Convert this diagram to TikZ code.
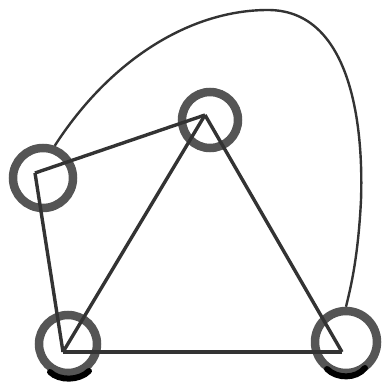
\documentclass[tikz,border=0pt]{standalone}
\usepackage{tikz}
\definecolor{gRing}{HTML}{555555}
\definecolor{gInk}{HTML}{333333}
\usetikzlibrary{positioning}

\begin{document}
\begin{tikzpicture}[
  x=1pt,y=-1pt,
  ring/.style={circle,draw=gRing,line width=8.5pt,inner sep=0pt,minimum size=#1},
  ring/.default=58pt,
  edge/.style={draw=gInk,line width=3.4pt,line join=miter},
  bigarc/.style={draw=gInk,line width=2.4pt},
  shadowarc/.style={draw=black,line width=6pt,line cap=round}
]
\useasboundingbox (0,0) rectangle (383,387);
\node[ring=60pt] (nl) at (43,178) {};
\node[ring=56pt] (nt) at (210,120) {};
\node[ring=58pt] (nb) at (68,344) {};
\node[ring=62pt] (nr) at (346,342) {};
\coordinate (vl) at (35,173);
\coordinate (vt) at (205,115);
\coordinate (vb) at (63,352);
\coordinate (vr) at (342,352);
\draw[edge] (vl) -- (vt);
\draw[edge] (vl) -- (vb);
\draw[edge] (vt) -- (vb);
\draw[edge] (vt) -- (vr);
\draw[edge] (vb) -- (vr);
\draw[bigarc] (nl.70) .. controls (110,60) and (190,10) .. (268,10)
  .. controls (345,10) and (364,110) .. (361,200)
  .. controls (358,260) and (350,290) .. (nr.90);
\draw[shadowarc] (50,372) .. controls (59,381) and (79,381) .. (89,371);
\draw[shadowarc] (327,369) .. controls (337,379) and (356,379) .. (365,368);
\end{tikzpicture}
\end{document}
